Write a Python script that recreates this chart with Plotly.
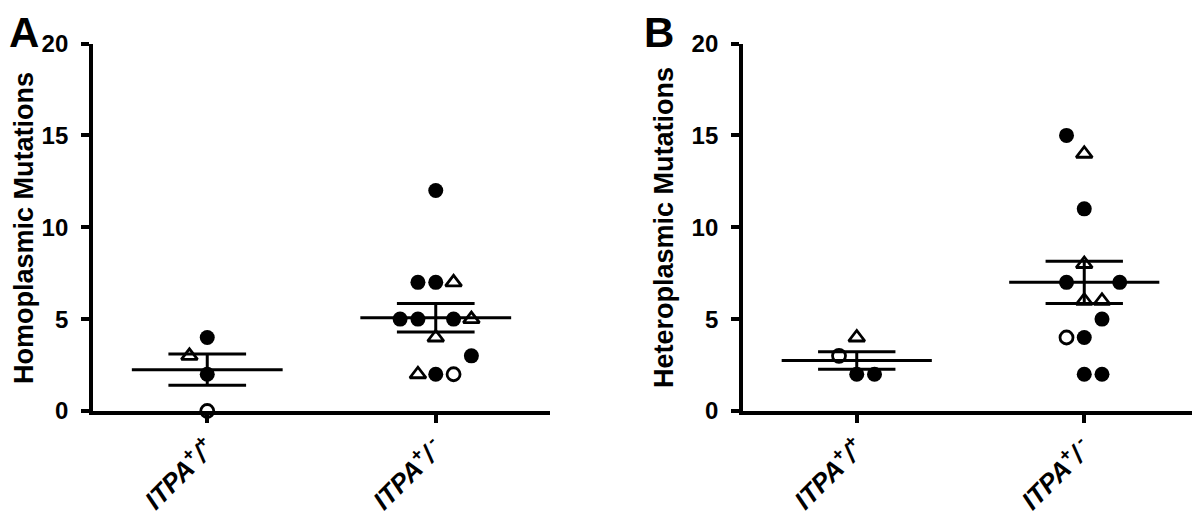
import numpy as np
import plotly.graph_objects as go

# ---------------- data ----------------
categories = ["ITPA+/+", "ITPA+/-"]
tick_labels = ["ITPA<sup>+</sup>/<sup>+</sup>", "ITPA<sup>+</sup>/<sup> -</sup>"]
y_ticks = [0, 5, 10, 15, 20]

# Panel A: Homoplasmic mutations
homo_wt_values = [3, 4, 2, 0]
homo_wt_kinds = ["tri", "fill", "fill", "open"]
homo_wt_slots = [-1, 0, 0, 0]

homo_het_values = [12, 7, 7, 7, 5, 5, 5, 5, 4, 3, 2, 2, 2]
homo_het_kinds = ["fill", "fill", "fill", "tri", "fill", "fill", "fill", "tri",
                  "tri", "fill", "tri", "fill", "open"]
homo_het_slots = [0, -1, 0, 1, -2, -1, 1, 2, 0, 2, -1, 0, 1]

# Panel B: Heteroplasmic mutations
hetero_wt_values = [4, 3, 2, 2]
hetero_wt_kinds = ["tri", "open", "fill", "fill"]
hetero_wt_slots = [0, -1, 0, 1]

hetero_het_values = [15, 14, 11, 8, 7, 7, 6, 6, 5, 4, 4, 2, 2]
hetero_het_kinds = ["fill", "tri", "fill", "tri", "fill", "fill", "tri", "tri",
                    "fill", "open", "fill", "fill", "fill"]
hetero_het_slots = [-1, 0, 0, 0, -1, 2, 0, 1, 1, -1, 0, 0, 1]

# ---------------- style ----------------
FONT = "Arial, Liberation Sans, sans-serif"
SPACING = 0.078
MEAN_HALF = 0.33
SEM_HALF = 0.17
LW = 3.0
AXLW = 3.8
OFF = 8  # page body margin

symbol_map = {
    "fill": dict(symbol="circle", size=15, color="black", line=dict(width=0)),
    "open": dict(symbol="circle-open", size=13, color="black", line=dict(width=2.8)),
    "tri": dict(symbol="triangle-up-open", size=14, color="black", line=dict(width=2.8)),
}

fig = go.Figure()


def add_group(xaxis, yaxis, pos, values, kinds, slots):
    vals = np.array(values, dtype=float)
    mean = vals.mean()
    sem = vals.std(ddof=1) / np.sqrt(len(vals))
    line = dict(color="black", width=LW)
    common = dict(xaxis=xaxis, yaxis=yaxis, mode="lines", line=line,
                  hoverinfo="skip", showlegend=False)
    fig.add_trace(go.Scatter(x=[pos - MEAN_HALF, pos + MEAN_HALF], y=[mean, mean], **common))
    fig.add_trace(go.Scatter(x=[pos - SEM_HALF, pos + SEM_HALF], y=[mean + sem] * 2, **common))
    fig.add_trace(go.Scatter(x=[pos - SEM_HALF, pos + SEM_HALF], y=[mean - sem] * 2, **common))
    fig.add_trace(go.Scatter(x=[pos, pos], y=[mean - sem, mean + sem], **common))
    for kind in ["fill", "open", "tri"]:
        xs = [pos + s * SPACING for v, k, s in zip(values, kinds, slots) if k == kind]
        ys = [v for v, k in zip(values, kinds) if k == kind]
        if not xs:
            continue
        fig.add_trace(go.Scatter(x=xs, y=ys, xaxis=xaxis, yaxis=yaxis, mode="markers",
                                 marker=symbol_map[kind], cliponaxis=False,
                                 showlegend=False, hoverinfo="skip"))


add_group("x", "y", 1, homo_wt_values, homo_wt_kinds, homo_wt_slots)
add_group("x", "y", 2, homo_het_values, homo_het_kinds, homo_het_slots)
add_group("x2", "y2", 1, hetero_wt_values, hetero_wt_kinds, hetero_wt_slots)
add_group("x2", "y2", 2, hetero_het_values, hetero_het_kinds, hetero_het_slots)

W, H = 1200, 522


def px_x(p):
    return (p - OFF) / W


def px_y(p):
    return 1 - (p - OFF) / H


y_dom = [px_y(411), px_y(43.5)]

xcommon = dict(range=[0.5, 2.5], tickmode="array", tickvals=[1, 2], ticktext=tick_labels,
               tickangle=-45, ticks="outside", ticklen=8, tickwidth=AXLW, tickcolor="black",
               showline=True, linewidth=AXLW, linecolor="black", showgrid=False, zeroline=False,
               automargin=False,
               tickfont=dict(family=FONT, size=26, color="black", weight="bold", style="italic"))
ycommon = dict(range=[0, 20], tickmode="array", tickvals=y_ticks, ticks="outside", ticklen=8,
               tickwidth=AXLW, tickcolor="black", showline=True, linewidth=AXLW, linecolor="black",
               showgrid=False, zeroline=False, ticklabelstandoff=8, automargin=False,
               tickfont=dict(family=FONT, size=24, color="black", weight="bold"))

fig.update_layout(
    width=W, height=H,
    margin=dict(l=0, r=0, t=0, b=0, pad=0),
    paper_bgcolor="white", plot_bgcolor="white",
    xaxis=dict(domain=[px_x(93), px_x(550)], anchor="y", **xcommon),
    yaxis=dict(domain=y_dom, anchor="x", **ycommon),
    xaxis2=dict(domain=[px_x(743), px_x(1198)], anchor="y2", **xcommon),
    yaxis2=dict(domain=y_dom, anchor="x2", **ycommon),
)

annots = [
    dict(text="<b>A</b>", x=px_x(8), y=px_y(8), size=42, angle=0, xanchor="left",
         yanchor="top"),
    dict(text="<b>B</b>", x=px_x(659), y=px_y(8), size=42, angle=0, xanchor="center",
         yanchor="top"),
    dict(text="<b>Homoplasmic Mutations</b>", x=px_x(8), y=px_y(228), size=27, angle=-90,
         xanchor="left", yanchor="middle"),
    dict(text="<b>Heteroplasmic Mutations</b>", x=px_x(664), y=px_y(228), size=27, angle=-90,
         xanchor="center", yanchor="middle"),
]
for a in annots:
    fig.add_annotation(text=a["text"], x=a["x"], y=a["y"], xref="paper", yref="paper",
                       xanchor=a["xanchor"], yanchor=a["yanchor"], showarrow=False,
                       textangle=a["angle"], borderpad=0,
                       font=dict(family=FONT, size=a["size"], color="black"))

fig.write_html("out.html")
